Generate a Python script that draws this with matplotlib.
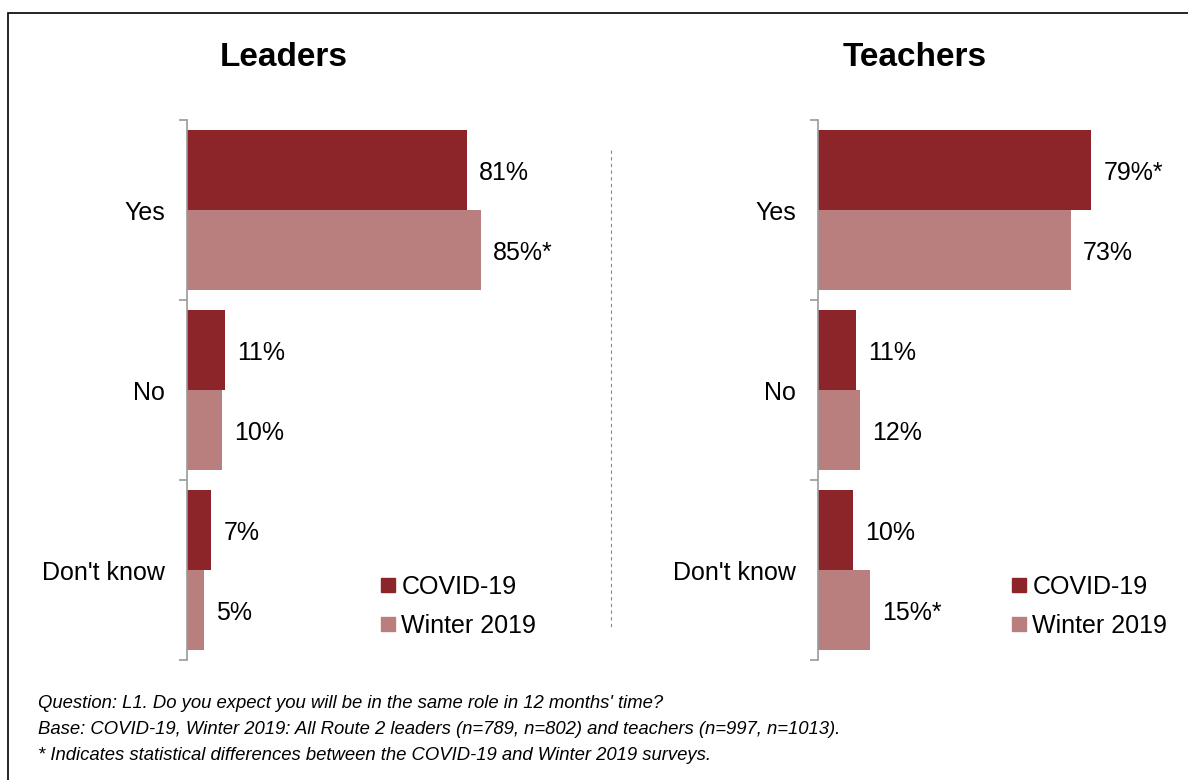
import matplotlib.pyplot as plt
import matplotlib.patches as mpatches
from matplotlib.lines import Line2D
import numpy as np

plt.rcParams['font.family'] = ['Liberation Sans', 'DejaVu Sans']

categories = ['Yes', 'No', "Don't know"]
leaders_covid = [81, 11, 7]
leaders_winter = [85, 10, 5]
leaders_covid_lbl = ['81%', '11%', '7%']
leaders_winter_lbl = ['85%*', '10%', '5%']
teachers_covid = [79, 11, 10]
teachers_winter = [73, 12, 15]
teachers_covid_lbl = ['79%*', '11%', '10%']
teachers_winter_lbl = ['73%', '12%', '15%*']
series_names = ['COVID-19', 'Winter 2019']
footnotes = [
    "Question: L1. Do you expect you will be in the same role in 12 months' time?",
    "Base: COVID-19, Winter 2019: All Route 2 leaders (n=789, n=802) and teachers (n=997, n=1013).",
    "* Indicates statistical differences between the COVID-19 and Winter 2019 surveys.",
]

dark = '#8B252A'
light = '#B97E7E'
W, H = 1188, 780

fig = plt.figure(figsize=(W / 100, H / 100), dpi=100)

# outer frame
fig.patches.append(mpatches.Rectangle((8 / W, -0.05), 1.1, 1 - 13 / H + 0.05,
                                      transform=fig.transFigure, fill=False,
                                      edgecolor='black', linewidth=1.2))


def panel(x0, title, covid, winter, covid_lbl, winter_lbl):
    ax = fig.add_axes([x0 / W, 120 / H, 346 / W, 540 / H])
    y = np.arange(len(categories))
    h = 0.444
    ax.barh(y - h / 2, covid, height=h, color=dark, label=series_names[0])
    ax.barh(y + h / 2, winter, height=h, color=light, label=series_names[1])
    for i in range(len(categories)):
        ax.text(covid[i] + 3.5, y[i] - h / 2 + 0.015, covid_lbl[i], va='center', ha='left', fontsize=18)
        ax.text(winter[i] + 3.5, y[i] + h / 2 + 0.015, winter_lbl[i], va='center', ha='left', fontsize=18)
    ax.set_xlim(0, 100)
    ax.set_ylim(2.5, -0.5)
    ax.set_xticks([])
    ax.set_yticks([-0.5, 0.5, 1.5, 2.5])
    ax.set_yticklabels([])
    ax.set_yticks(y, minor=True)
    ax.set_yticklabels(categories, minor=True, fontsize=18)
    ax.tick_params(axis='y', which='major', length=6, color='#999999', width=1.2)
    ax.tick_params(axis='y', which='minor', length=0, pad=16)
    for s in ['top', 'right', 'bottom']:
        ax.spines[s].set_visible(False)
    ax.spines['left'].set_color('#999999')
    ax.spines['left'].set_linewidth(1.2)
    ax.text(0.28, 1 + 63 / 540, title, transform=ax.transAxes, fontsize=24,
            fontweight='bold', ha='center', va='center')
    handles = [Line2D([], [], marker='s', linestyle='none', color=dark, markersize=10),
               Line2D([], [], marker='s', linestyle='none', color=light, markersize=10)]
    ax.legend(handles, series_names, loc='upper left', bbox_to_anchor=(0.562, 0.158),
              frameon=False, fontsize=18, handlelength=0.5, handletextpad=0.3,
              labelspacing=0.6, borderpad=0, borderaxespad=0)
    return ax


panel(187, 'Leaders', leaders_covid, leaders_winter, leaders_covid_lbl, leaders_winter_lbl)
panel(818, 'Teachers', teachers_covid, teachers_winter, teachers_covid_lbl, teachers_winter_lbl)

# dashed divider
fig.add_artist(Line2D([611 / W, 611 / W], [1 - 150 / H, 1 - 630 / H], transform=fig.transFigure,
                      color='#888888', linestyle=(0, (3, 3)), linewidth=0.8))

for i, line in enumerate(footnotes):
    fig.text(38 / W, 1 - (704 + 25.5 * i) / H, line, fontsize=13.3, style='italic',
             va='center', ha='left')

fig.savefig('out.png', dpi=100)
